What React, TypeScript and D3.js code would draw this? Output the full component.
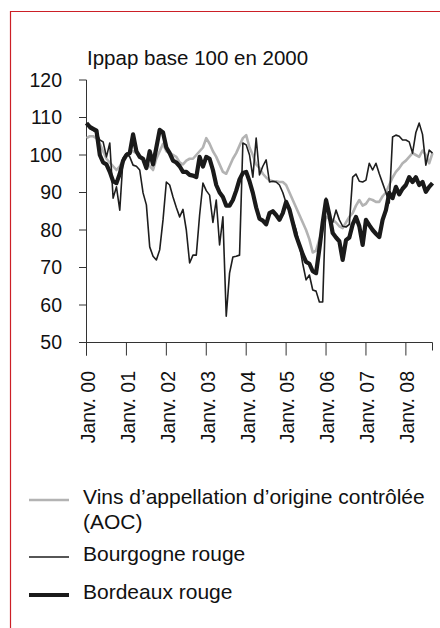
import * as d3 from "d3";

// Ippap base 100 en 2000, mensuel de janv. 2000 à sept. 2008
const yearLabels = ["Janv. 00", "Janv. 01", "Janv. 02", "Janv. 03", "Janv. 04", "Janv. 05", "Janv. 06", "Janv. 07", "Janv. 08"];
const yTicks = [50, 60, 70, 80, 90, 100, 110, 120];

const aoc = [
  104.5, 105, 105, 104.5, 103, 101, 99, 98, 97, 96, 97, 98.5,
  100, 101, 101, 100.5, 99.5, 98.5, 98, 97, 96, 99, 101, 103,
  101, 100.5, 100, 99.5, 98, 97.5, 98.5, 99, 99, 100, 101, 102,
  104.5, 103, 101, 99.5, 97.5, 95.5, 95, 97, 99, 100.5, 102.5, 104.5,
  105.3, 102, 100, 97.5, 96.5, 95, 94, 93.3, 93, 93, 92.8, 92.8,
  92, 90, 88, 86, 84, 82, 80, 77.5, 74, 74.5, 77.5, 80,
  83.5, 83, 82.7, 82, 81, 80.5, 82, 83.5, 84.5, 86.5, 88, 86.5,
  87, 88.3, 88, 87.5, 87.5, 89, 90, 92, 94, 95.5, 96.5, 97.8,
  98.5, 99.5, 100.5, 100, 99.5, 101.2, 100, 97.8, 100.5,
];

const bourgogne = [
  108.5, 107, 106.5, 106, 104, 103.5, 99.5, 103.2, 88.5, 91.5, 85.3, 99.2,
  100.5, 99.5, 97.3, 97, 96, 89.9, 86.7, 75.5, 73, 72, 74.7, 82.7,
  92.8, 92, 88.8, 86, 83.5, 85.5, 80, 71.2, 73.3, 73.3, 84, 92.5,
  90.5, 89.3, 82, 88, 76, 83.5, 57, 68.5, 72.8, 73, 73.3, 103.2,
  102.7, 100, 94.1, 104.5, 94.7, 97, 98.7, 92.8, 93, 92.8, 92, 90,
  87.2, 85, 82.7, 80, 76, 71, 66.7, 68, 64, 63.7, 60.8, 60.8,
  88.5, 82.7, 82, 85.3, 82.7, 81, 80.8, 81.5, 94.1, 94.9, 93, 92.8,
  93.3, 97.8, 96, 97.8, 95, 92.5, 90, 87.2, 104.8, 105.3, 105, 104,
  104, 103.5, 100.5, 106, 108.5, 105.5, 97.3, 101.3, 100.5,
];

const bordeaux = [
  108.5, 107.5, 107, 106.5, 100, 98, 97.5, 95.5, 93, 92.5, 95, 98.5,
  100, 100.5, 105.5, 101, 99.5, 99, 96.5, 101, 97.5, 102, 106.7, 106,
  102, 100.5, 98.5, 98, 97, 95.5, 95.5, 94.7, 94.5, 94.1, 99.5, 96.9,
  99.5, 99, 96, 92, 90, 88.8, 86.5, 86.5, 88, 90.5, 93.5, 95.2,
  95.5, 93, 89.9, 86, 83, 82.5, 81.5, 84.5, 85, 84, 82.7, 84.5,
  87.5, 85.5, 82, 78.5, 76, 73.5, 71.5, 71, 69, 68.5, 75, 82,
  88, 84, 79.2, 78, 77, 72, 77.3, 78, 81.5, 83.5, 81, 76,
  82.7, 81.3, 80, 79, 78.1, 82.7, 85.3, 89.9, 88.5, 91.5, 89.5, 91,
  92, 94.1, 92.8, 94.1, 92, 92.8, 90.2, 91.5, 92.5,
];

const series = [
  { key: "aoc", label: ["Vins d’appellation d’origine contrôlée", "(AOC)"], values: aoc, color: "#b3b3b3", width: 2.6 },
  { key: "bourgogne", label: ["Bourgogne rouge"], values: bourgogne, color: "#1e1e1e", width: 1.6 },
  { key: "bordeaux", label: ["Bordeaux rouge"], values: bordeaux, color: "#1a1a1a", width: 4.2 },
];

const FONT = "'Liberation Sans', Arial, Helvetica, sans-serif";
const W = 440;
const H = 628;

export default function App() {
  const x = d3.scaleLinear().domain([0, aoc.length - 1]).range([86.5, 432.5]);
  const y = d3.scaleLinear().domain([50, 120]).range([342.5, 80]);
  const line = d3
    .line<number>()
    .x((_, i) => x(i))
    .y((d) => y(d));

  const axisY = y(50);
  const legendRows = [500, 557, 595];

  return (
    <svg
      width={W}
      height={H}
      style={{ position: "absolute", left: 0, top: 0, background: "#fff" }}
      fontFamily={FONT}
    >
      {/* red frame */}
      <path d={`M10.5,${H}V11.5H${W}`} fill="none" stroke="#cc1f26" strokeWidth={1.2} />

      <text x={87} y={65} fontSize={20.5} fill="#111">
        Ippap base 100 en 2000
      </text>

      {/* y axis */}
      <line x1={86.5} x2={86.5} y1={y(120)} y2={axisY + 13} stroke="#333" strokeWidth={1} />
      {yTicks.map((t) => (
        <g key={t}>
          <line x1={79} x2={86.5} y1={y(t)} y2={y(t)} stroke="#333" strokeWidth={1} />
          <text x={62} y={y(t)} dy="0.35em" textAnchor="end" fontSize={19.5} fill="#111">
            {t}
          </text>
        </g>
      ))}

      {/* x axis */}
      <line x1={79} x2={x(aoc.length - 1)} y1={axisY} y2={axisY} stroke="#333" strokeWidth={1} />
      {yearLabels.map((lab, k) => {
        const tx = x(k * 12);
        return (
          <g key={lab}>
            <line x1={tx} x2={tx} y1={axisY} y2={axisY + 13} stroke="#333" strokeWidth={1} />
            <text
              transform={`translate(${tx + 1.5},371) rotate(-90)`}
              dy="0.35em"
              textAnchor="end"
              fontSize={19.5}
              fill="#111"
            >
              {lab}
            </text>
          </g>
        );
      })}
      <line
        x1={x(aoc.length - 1)}
        x2={x(aoc.length - 1)}
        y1={axisY}
        y2={axisY + 8}
        stroke="#333"
        strokeWidth={1}
      />

      {/* series */}
      {series.map((s) => (
        <path
          key={s.key}
          d={line(s.values) || ""}
          fill="none"
          stroke={s.color}
          strokeWidth={s.width}
          strokeLinejoin="round"
        />
      ))}

      {/* legend */}
      {series.map((s, k) => (
        <g key={s.key}>
          <line x1={29} x2={69} y1={legendRows[k]} y2={legendRows[k]} stroke={s.color} strokeWidth={s.width} />
          {s.label.map((t, j) => (
            <text key={j} x={83} y={legendRows[k] + 4 + j * 25} fontSize={21} fill="#111">
              {t}
            </text>
          ))}
        </g>
      ))}
    </svg>
  );
}
